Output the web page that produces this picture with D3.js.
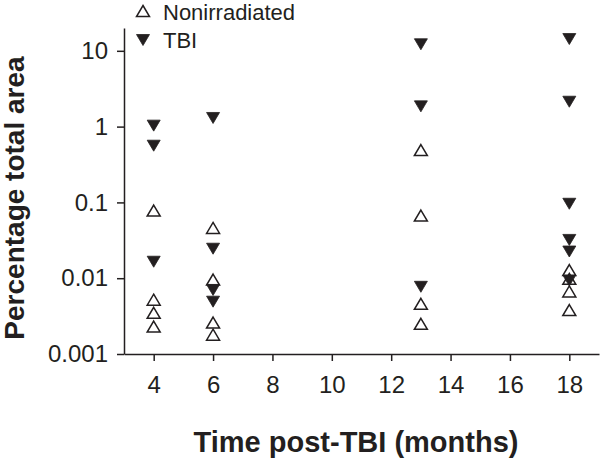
<!DOCTYPE html>
<html>
<head>
<meta charset="utf-8">
<script src="https://cdn.jsdelivr.net/npm/d3@7"></script>
<style>
  html, body { margin: 0; padding: 0; background: #fff; }
  svg { display: block; }
  text { font-family: Arial, "Liberation Sans", Helvetica, sans-serif; fill: #231f20; }
</style>
</head>
<body>
<svg id="chart" width="600" height="463"></svg>
<script>
// ---- Data ----
const xTicks = [4, 6, 8, 10, 12, 14, 16, 18];
const yTicks = [0.001, 0.01, 0.1, 1, 10];
const yTickLabels = ["0.001", "0.01", "0.1", "1", "10"];

const nonirrMonths = [4, 4, 4, 4, 6, 6, 6, 6, 13, 13, 13, 13, 18, 18, 18, 18];
const nonirrValues = [0.078, 0.0052, 0.0035, 0.0023, 0.046, 0.0096, 0.0026, 0.0018, 0.49, 0.067, 0.0046, 0.0025, 0.0128, 0.0098, 0.0067, 0.0038];

const tbiMonths = [4, 4, 4, 6, 6, 6, 6, 13, 13, 13, 18, 18, 18, 18, 18, 18];
const tbiValues = [1.03, 0.56, 0.0165, 1.3, 0.0245, 0.007, 0.0049, 12.2, 1.85, 0.0077, 14.3, 2.13, 0.096, 0.032, 0.0225, 0.0093];

const legendLabels = ["Nonirradiated", "TBI"];

// ---- Layout ----
const ink = "#231f20";
const svg = d3.select("#chart");

const x = d3.scaleLinear().domain([3, 19]).range([124, 599]);
const y = d3.scaleLog().domain([0.001, 20]).range([354, 28]);

// Axes
const yAxis = d3.axisLeft(y)
  .tickValues(yTicks)
  .tickFormat((d, i) => yTickLabels[i])
  .tickSizeInner(7)
  .tickSizeOuter(0)
  .tickPadding(9);

const xAxis = d3.axisBottom(x)
  .tickValues(xTicks)
  .tickFormat(d3.format("d"))
  .tickSizeInner(7)
  .tickSizeOuter(0)
  .tickPadding(15);

const gy = svg.append("g").attr("transform", "translate(124,0)").call(yAxis);
const gx = svg.append("g").attr("transform", "translate(0,354)").call(xAxis);

[gx, gy].forEach(g => {
  g.select(".domain").attr("stroke", ink).attr("stroke-width", 1.5);
  g.selectAll(".tick line").attr("stroke", ink).attr("stroke-width", 1.5);
  g.selectAll(".tick text")
    .attr("font-size", 24)
    .style("font-family", 'Arial, "Liberation Sans", Helvetica, sans-serif')
    .attr("fill", ink);
});

// Axis titles
svg.append("text")
  .attr("transform", "translate(24,198) rotate(-90)")
  .attr("text-anchor", "middle")
  .attr("font-size", 28)
  .attr("font-weight", "bold")
  .text("Percentage total area");

svg.append("text")
  .attr("x", 356)
  .attr("y", 452)
  .attr("text-anchor", "middle")
  .attr("font-size", 29)
  .attr("font-weight", "bold")
  .text("Time post-TBI (months)");

// Markers
const hw = 6.5, hh = 5.5;
const upTri = `M0,${-hh}L${hw},${hh}L${-hw},${hh}Z`;
const downTri = `M${-hw},${-hh}L${hw},${-hh}L0,${hh}Z`;

const nonData = nonirrMonths.map((m, i) => ({ m, v: nonirrValues[i] }));
const tbiData = tbiMonths.map((m, i) => ({ m, v: tbiValues[i] }));

svg.append("g").selectAll("path").data(tbiData).join("path")
  .attr("d", downTri)
  .attr("transform", d => `translate(${x(d.m)},${y(d.v)})`)
  .attr("fill", ink)
  .attr("stroke", ink)
  .attr("stroke-width", 0.8);

svg.append("g").selectAll("path").data(nonData).join("path")
  .attr("d", upTri)
  .attr("transform", d => `translate(${x(d.m)},${y(d.v)})`)
  .attr("fill", "none")
  .attr("stroke", ink)
  .attr("stroke-width", 1.5);

// Legend
const legend = svg.append("g");
legend.append("path").attr("d", upTri)
  .attr("transform", "translate(143,11)")
  .attr("fill", "none").attr("stroke", ink).attr("stroke-width", 1.5);
legend.append("text").attr("x", 163).attr("y", 20).attr("font-size", 22).text(legendLabels[0]);
legend.append("path").attr("d", downTri)
  .attr("transform", "translate(143,40)")
  .attr("fill", ink).attr("stroke", ink).attr("stroke-width", 0.8);
legend.append("text").attr("x", 163).attr("y", 48).attr("font-size", 22).text(legendLabels[1]);
</script>
</body>
</html>
